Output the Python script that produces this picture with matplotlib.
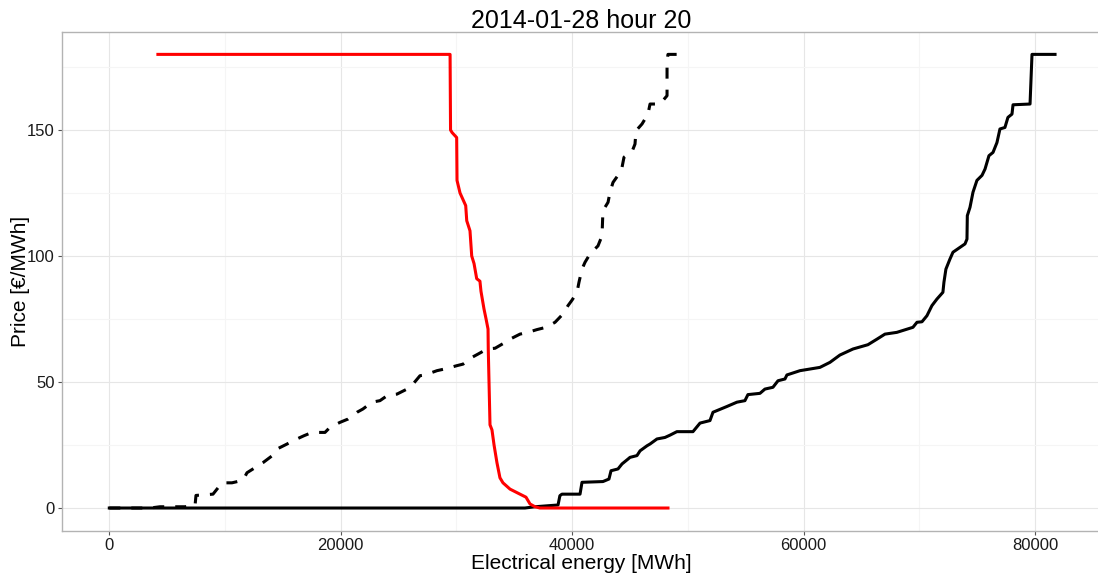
import matplotlib
matplotlib.use("Agg")
import matplotlib.pyplot as plt
from matplotlib.ticker import MultipleLocator

plt.rcParams["font.family"] = ["Liberation Sans", "DejaVu Sans"]

title = "2014-01-28 hour 20"
xlabel = "Electrical energy [MWh]"
ylabel = "Price [€/MWh]"
x_ticks = [0, 20000, 40000, 60000, 80000]
y_ticks = [0, 50, 100, 150]

# Demand curve (red)
demand_mwh = [4200, 29200, 29450, 29490, 29620, 30020, 30050, 30310, 30800,
              30890, 31170, 31320, 31520, 31750, 32030, 32120, 32380, 32560,
              32730, 32750, 32900, 33070, 33250, 33500, 33760, 34020, 34630,
              35490, 36010, 36360, 36790, 37220, 48280]
demand_price = [180, 180, 180, 150, 149, 147, 130, 125, 120,
                114, 110, 100, 97, 91, 90, 86, 79, 75,
                71, 63, 33, 31, 25, 18, 12, 10, 7.5,
                5.5, 4.3, 1.6, 0.5, 0, 0]

# Supply curve, first version (dashed)
supply_a_mwh = [0, 3520, 4380, 6540, 7410, 7490, 8960, 9220, 9740, 10600,
                11550, 11900, 12590, 13280, 14150, 14490, 15360, 15880, 16830,
                17520, 18640, 19070, 19940, 20630, 21410, 21920, 22700, 23390,
                24080, 24860, 25730, 26250, 26850, 27280, 28320, 29010, 30050,
                30570, 31350, 31870, 32650, 33340, 34200, 34630, 35490, 36180,
                36960, 37740, 38520, 39210, 39640, 39990, 40420, 40590, 40850,
                41110, 41540, 42230, 42580, 42660, 43100, 43270, 43530, 43960,
                44310, 44480, 45170, 45430, 45520, 46040, 46550, 46730, 47590,
                48200, 48200, 48280, 49150]
supply_a_price = [0, 0, 0.5, 0.5, 1, 5, 5.5, 7, 10, 10,
                  11, 14, 16, 18, 21, 23.4, 25.4, 26.7, 28.7,
                  30, 30, 32, 34, 35.3, 38, 39.3, 42, 42.6,
                  44.8, 45.2, 47.2, 49.2, 52.5, 52.8, 54.5, 55.2, 56.5,
                  57.1, 59.8, 61.1, 63.1, 63.4, 65.7, 67, 69, 69.7,
                  70.8, 71.7, 73.7, 77, 80.3, 82.5, 85.6, 89.6, 94.8,
                  97.5, 100.8, 104, 108, 118, 121.3, 125.3, 129.2, 132,
                  135.2, 139.2, 141.4, 144.4, 149.7, 152.4, 156.3, 160.3, 160.3,
                  163.6, 177, 180, 180]

# Supply curve, second version (solid black)
supply_b_mwh = [0, 35920, 36790, 37910, 38780, 38940, 39120, 40680, 40850,
                42660, 43180, 43360, 43960, 44310, 44820, 45000, 45600, 45870,
                46470, 46730, 47330, 48020, 48450, 49050, 50440, 51050, 51910,
                52170, 53380, 54240, 54930, 55190, 56230, 56660, 57350, 57790,
                58390, 58560, 59690, 61410, 62280, 63140, 64270, 65560, 66340,
                67030, 68060, 69450, 69800, 70230, 70660, 71090, 71520, 72040,
                72130, 72300, 72650, 72910, 73950, 74120, 74150, 74380, 74640,
                74980, 75420, 75680, 76020, 76370, 76710, 76970, 77400, 77660,
                78010, 78100, 79570, 79740, 81730]
supply_b_price = [0, 0, 0.5, 0.9, 1.2, 4.9, 5.5, 5.5, 10.2,
                  10.5, 11.5, 14.8, 15.5, 17.5, 19.4, 20.1, 20.8, 22.7,
                  24.7, 25.4, 27.4, 28, 28.9, 30.3, 30.3, 33.7, 34.7,
                  38, 40.3, 42, 42.6, 45, 45.5, 47.2, 47.9, 50.5,
                  51.2, 52.8, 54.5, 55.8, 57.8, 60.7, 63.1, 64.8, 67,
                  69, 69.7, 71.7, 73.7, 73.9, 76.3, 80.3, 82.9, 85.6,
                  89.6, 94.8, 98.8, 101.5, 104.8, 106.7, 116, 119.3, 125.3,
                  130, 132, 134.5, 139.8, 141.1, 145, 150.4, 151, 155,
                  156.3, 160, 160.3, 180, 180]

W, H = 1098, 575
fig = plt.figure(figsize=(W / 100, H / 100), dpi=100)
fig.patch.set_facecolor("white")

# panel in pixel units (extends slightly past the right edge)
left_px, right_px, top_px, bottom_px = 61.7, 1109, 31.7, 530.7
ax = fig.add_axes([left_px / W, 1 - bottom_px / H,
                   (right_px - left_px) / W, (bottom_px - top_px) / H])

ax.set_xlim(-4114, 86394)
ax.set_ylim(-9, 189)

ax.set_xticks(x_ticks)
ax.set_yticks(y_ticks)
ax.xaxis.set_minor_locator(MultipleLocator(10000))
ax.yaxis.set_minor_locator(MultipleLocator(25))
ax.grid(which="major", color="#e6e6e6", linewidth=0.8)
ax.grid(which="minor", color="#f5f5f5", linewidth=0.8)
ax.set_axisbelow(True)

for s in ax.spines.values():
    s.set_color("#b3b3b3")
    s.set_linewidth(1.0)

ax.tick_params(which="major", direction="out", length=3, width=0.8,
               color="#555555", labelsize=12, labelcolor="#1a1a1a", pad=2)
ax.tick_params(which="minor", length=0)

lw = 2.2
ax.plot(supply_b_mwh, supply_b_price, color="black", linewidth=lw,
        solid_joinstyle="round", zorder=3)
ax.plot(supply_a_mwh, supply_a_price, color="black", linewidth=lw,
        linestyle=(0, (3.6, 3.6)), dash_capstyle="butt", zorder=3)
ax.plot(demand_mwh, demand_price, color="#ff0000", linewidth=lw,
        solid_joinstyle="round", zorder=4)

fig.text(580.8 / W, 1 - 28 / H, title, ha="center", va="baseline",
         fontsize=18, color="black")
fig.text(581 / W, 1 - 569 / H, xlabel, ha="center", va="baseline",
         fontsize=15, color="black")
fig.text(20 / W, 1 - 281 / H, ylabel, ha="center", va="center",
         rotation=90, fontsize=15, color="black")

fig.savefig("out.png", dpi=100)
